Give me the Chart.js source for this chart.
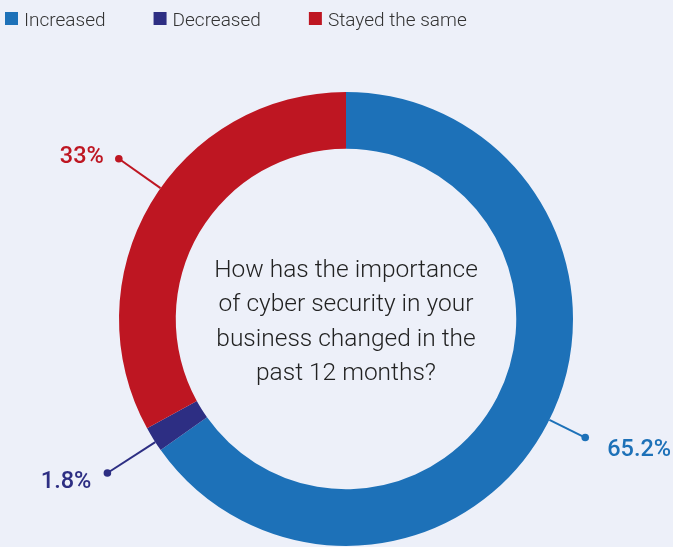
<!DOCTYPE html>
<html>
<head>
<meta charset="utf-8">
<script src="https://cdn.jsdelivr.net/npm/chart.js@4"></script>
<style>
  html, body { margin: 0; padding: 0; background: #edf0f9; }
  #wrap { width: 673px; height: 547px; }
</style>
</head>
<body>
<div id="wrap"><canvas id="ring" width="673" height="547"></canvas></div>
<script>
var categories = ['Increased', 'Decreased', 'Stayed the same'];
var shares = [65.2, 1.8, 33];
var valueLabels = ['65.2%', '1.8%', '33%'];
var colours = ['#1d71b8', '#2d2e83', '#be1622'];
var question = ['How has the importance', 'of cyber security in your', 'business changed in the', 'past 12 months?'];

// callout tweaks per slice: angle shift (deg), dot distance past the rim, text offset from dot
var callouts = [
  { shift: -1, reach: 40, tx: 22, ty: 18, align: 'left' },
  { shift: -0.8, reach: 57, tx: -16, ty: 15, align: 'right' },
  { shift: 4.6, reach: 51, tx: -15, ty: 4, align: 'right' }
];

var extras = {
  id: 'extras',
  afterDatasetsDraw: function (chart) {
    var ctx = chart.ctx;
    var arcs = chart.getDatasetMeta(0).data;

    // legend row
    ctx.save();
    ctx.font = '300 19px Roboto';
    ctx.textBaseline = 'alphabetic';
    ctx.textAlign = 'left';
    var x = 5;
    categories.forEach(function (name, i) {
      ctx.fillStyle = colours[i];
      ctx.fillRect(x, 12, 13, 13);
      ctx.fillStyle = '#333';
      ctx.fillText(name, x + 19, 25.5);
      x += 19 + ctx.measureText(name).width + 48;
    });
    ctx.restore();

    // callouts
    arcs.forEach(function (arc, i) {
      var c = callouts[i];
      var p = arc.getProps(['x', 'y', 'startAngle', 'endAngle', 'outerRadius'], true);
      var a = (p.startAngle + p.endAngle) / 2 + c.shift * Math.PI / 180;
      var x0 = p.x + Math.cos(a) * p.outerRadius;
      var y0 = p.y + Math.sin(a) * p.outerRadius;
      var x1 = p.x + Math.cos(a) * (p.outerRadius + c.reach);
      var y1 = p.y + Math.sin(a) * (p.outerRadius + c.reach);
      ctx.save();
      ctx.strokeStyle = colours[i];
      ctx.fillStyle = colours[i];
      ctx.lineWidth = 2;
      ctx.beginPath();
      ctx.moveTo(x0, y0);
      ctx.lineTo(x1, y1);
      ctx.stroke();
      ctx.beginPath();
      ctx.arc(x1, y1, 3.8, 0, Math.PI * 2);
      ctx.fill();
      ctx.font = '500 23.5px Roboto';
      ctx.textAlign = c.align;
      ctx.textBaseline = 'alphabetic';
      ctx.fillText(valueLabels[i], x1 + c.tx, y1 + c.ty);
      ctx.restore();
    });

    // question in the hole
    var cx = arcs[0].x, cy = arcs[0].y;
    ctx.save();
    ctx.font = '300 24.5px Roboto';
    ctx.fillStyle = '#222';
    ctx.textAlign = 'center';
    ctx.textBaseline = 'alphabetic';
    question.forEach(function (line, i) {
      ctx.fillText(line, cx, cy - 42 + i * 34.3);
    });
    ctx.restore();
  }
};

new Chart(document.getElementById('ring'), {
  type: 'doughnut',
  data: {
    labels: categories,
    datasets: [{
      data: shares,
      backgroundColor: colours,
      borderWidth: 0,
      offset: 0,
      hoverOffset: 0
    }]
  },
  options: {
    responsive: false,
    animation: false,
    cutout: '75%',
    layout: { padding: { top: 92, bottom: 1, left: 19, right: 0 } },
    plugins: {
      legend: { display: false },
      tooltip: { enabled: false }
    }
  },
  plugins: [extras]
});
</script>
</body>
</html>
